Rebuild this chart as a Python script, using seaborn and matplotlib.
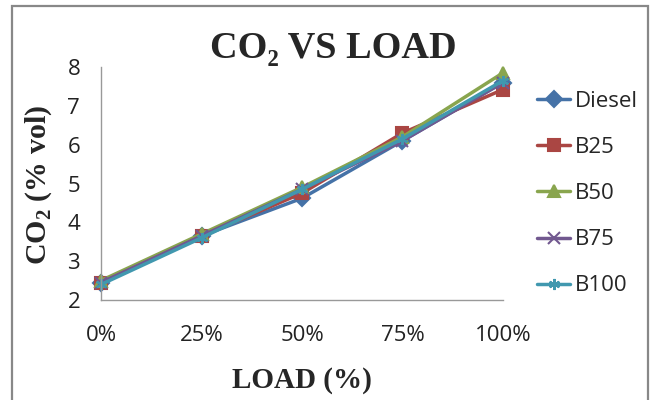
import matplotlib
matplotlib.use("Agg")
import matplotlib.pyplot as plt
import seaborn as sns
import pandas as pd
from matplotlib.patches import Rectangle
from matplotlib.lines import Line2D

loads = ["0%", "25%", "50%", "75%", "100%"]
diesel = [2.45, 3.65, 4.62, 6.10, 7.60]
b25 = [2.45, 3.65, 4.75, 6.30, 7.42]
b50 = [2.50, 3.70, 4.90, 6.20, 7.85]
b75 = [2.45, 3.65, 4.85, 6.10, 7.60]
b100 = [2.40, 3.60, 4.85, 6.15, 7.65]
series_names = ["Diesel", "B25", "B50", "B75", "B100"]
series_vals = [diesel, b25, b50, b75, b100]

sns.set_theme(style="white")
plt.rcParams["mathtext.fontset"] = "custom"
plt.rcParams["mathtext.rm"] = "Liberation Serif"
plt.rcParams["mathtext.bf"] = "Liberation Serif:bold"
plt.rcParams["font.family"] = ["Open Sans", "DejaVu Sans"]

colors = ["#4572A7", "#AA4643", "#89A54E", "#71588F", "#4198AF"]
markers = ["D", "s", "^", "x", (6, 2, 0)]

W, H = 651, 400
fig = plt.figure(figsize=(W / 100, H / 100), dpi=100)
ax = fig.add_axes([101 / W, 1 - 300 / H, 402 / W, 233 / H])

for name, vals, c, m in zip(series_names, series_vals, colors, markers):
    d = pd.DataFrame({"pos": list(range(len(loads))), "CO2": vals})
    sns.lineplot(data=d, x="pos", y="CO2", color=c, marker=m,
                 linewidth=2.5, markersize=8, markeredgewidth=1.5,
                 markeredgecolor=c, ax=ax, clip_on=False, label=name)
if ax.get_legend() is not None:
    ax.get_legend().remove()

ax.set_xlim(0, 4)
ax.set_ylim(2, 8)
ax.set_xticks(range(len(loads)))
ax.set_xticklabels(loads)
ax.set_yticks(range(2, 9))
ax.tick_params(axis="both", length=0, labelsize=16, colors="#222222")
ax.tick_params(axis="y", pad=15)
ax.tick_params(axis="x", pad=18)
for s in ["top", "right"]:
    ax.spines[s].set_visible(False)
for s in ["left", "bottom"]:
    ax.spines[s].set_color("#999999")
    ax.spines[s].set_linewidth(1.0)

ax.set_xlabel("LOAD (%)", fontfamily="Liberation Serif", fontweight="bold",
              fontsize=21)
ax.xaxis.label.set_va("center")
ax.xaxis.set_label_coords(0.5, (300 - 380) / 233)
ax.set_ylabel(r"CO$_{\mathbf{2}}$ (% vol)", fontfamily="Liberation Serif",
              fontweight="bold", fontsize=21.5)
ax.yaxis.label.set_va("center")
ax.yaxis.set_label_coords((39 - 101) / 402, (300 - 185) / 233)

fig.text(333 / W, 1 - 48 / H, "CO₂ VS LOAD", ha="center", va="center",
         fontfamily="Liberation Serif", fontweight="bold", fontsize=27.5)

handles = [Line2D([0], [0], color=c, marker=m, linewidth=2.5, markersize=8,
                  markeredgewidth=1.5) for c, m in zip(colors, markers)]
fig.legend(handles, series_names, loc="upper left",
           bbox_to_anchor=(537 / W, 1 - 91 / H), frameon=False, fontsize=16,
           labelspacing=1.13, handlelength=1.5, handletextpad=0.2,
           borderaxespad=0, borderpad=0)

fig.patches.append(Rectangle((12 / W, -0.02), 636 / W, 1.02 - 6 / H,
                             transform=fig.transFigure, fill=False,
                             edgecolor="#888888", linewidth=1.6))

fig.savefig("out.png", dpi=100)
